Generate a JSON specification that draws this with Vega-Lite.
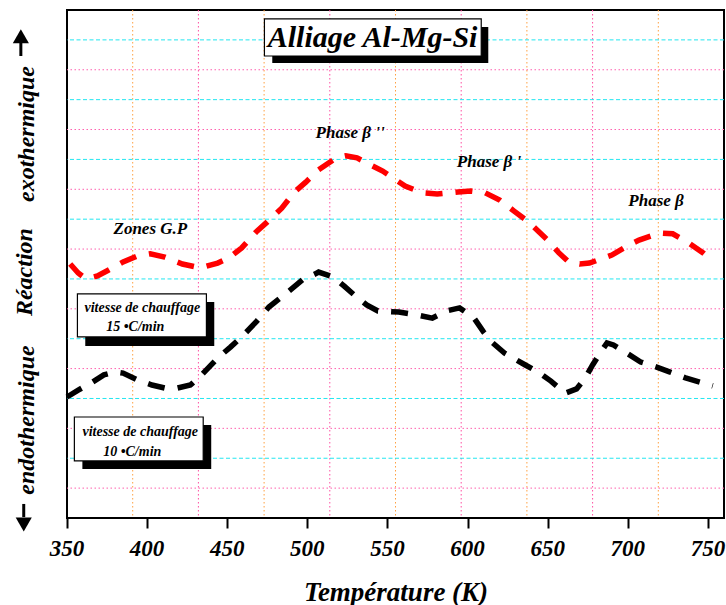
{
  "$schema": "https://vega.github.io/schema/vega-lite/v6.json",
  "width": 657,
  "height": 508,
  "autosize": "none",
  "padding": {"left": 67, "top": 10, "right": 2, "bottom": 87},
  "background": "white",
  "config": {
    "view": {"stroke": "black", "strokeWidth": 2},
    "font": "Liberation Serif",
    "axis": {
      "titleFont": "Liberation Serif", "titleFontStyle": "italic", "titleFontWeight": "bold",
      "titleFontSize": 27, "titleColor": "black"
    }
  },
  "datasets": {
    "vOrange": [{"T": 391}, {"T": 473}, {"T": 555}, {"T": 637}, {"T": 719}],
    "vPink": [{"T": 432}, {"T": 514}, {"T": 596}, {"T": 678}],
    "hPink": [{"v": 1}, {"v": 3}, {"v": 5}, {"v": 7}, {"v": 9}, {"v": 11}, {"v": 13}, {"v": 15}],
    "hCyan": [{"v": 2}, {"v": 4}, {"v": 6}, {"v": 8}, {"v": 10}, {"v": 12}, {"v": 14}, {"v": 16}],
    "tickLabels": [
      {"T": 350, "v": -1.03, "label": "350"}, {"T": 400, "v": -1.03, "label": "400"}, {"T": 450, "v": -1.03, "label": "450"},
      {"T": 500, "v": -1.03, "label": "500"}, {"T": 550, "v": -1.03, "label": "550"}, {"T": 600, "v": -1.03, "label": "600"},
      {"T": 650, "v": -1.03, "label": "650"}, {"T": 700, "v": -1.03, "label": "700"}, {"T": 750, "v": -1.03, "label": "750"}
    ],
    "curves": [
      {"s": "15", "T": 352, "v": 8.5}, {"s": "15", "T": 357, "v": 8.2}, {"s": "15", "T": 362, "v": 8.0},
      {"s": "15", "T": 369, "v": 8.1}, {"s": "15", "T": 376, "v": 8.3}, {"s": "15", "T": 385, "v": 8.57},
      {"s": "15", "T": 394, "v": 8.77}, {"s": "15", "T": 402, "v": 8.84}, {"s": "15", "T": 411, "v": 8.73},
      {"s": "15", "T": 422, "v": 8.5}, {"s": "15", "T": 433, "v": 8.37}, {"s": "15", "T": 444, "v": 8.53},
      {"s": "15", "T": 451, "v": 8.7}, {"s": "15", "T": 459, "v": 9.04}, {"s": "15", "T": 468, "v": 9.57},
      {"s": "15", "T": 475, "v": 9.91}, {"s": "15", "T": 484, "v": 10.37}, {"s": "15", "T": 492, "v": 10.91},
      {"s": "15", "T": 499, "v": 11.24}, {"s": "15", "T": 507, "v": 11.65}, {"s": "15", "T": 518, "v": 12.05},
      {"s": "15", "T": 524, "v": 12.12}, {"s": "15", "T": 531, "v": 12.05}, {"s": "15", "T": 537, "v": 11.88},
      {"s": "15", "T": 547, "v": 11.61}, {"s": "15", "T": 561, "v": 11.11}, {"s": "15", "T": 572, "v": 10.88},
      {"s": "15", "T": 581, "v": 10.84}, {"s": "15", "T": 594, "v": 10.91}, {"s": "15", "T": 602, "v": 10.94},
      {"s": "15", "T": 611, "v": 10.88}, {"s": "15", "T": 620, "v": 10.64}, {"s": "15", "T": 629, "v": 10.27},
      {"s": "15", "T": 638, "v": 9.91}, {"s": "15", "T": 650, "v": 9.3}, {"s": "15", "T": 657, "v": 8.87},
      {"s": "15", "T": 663, "v": 8.57}, {"s": "15", "T": 670, "v": 8.5}, {"s": "15", "T": 676, "v": 8.53},
      {"s": "15", "T": 690, "v": 8.8}, {"s": "15", "T": 701, "v": 9.14}, {"s": "15", "T": 707, "v": 9.3},
      {"s": "15", "T": 720, "v": 9.54}, {"s": "15", "T": 728, "v": 9.51}, {"s": "15", "T": 737, "v": 9.24},
      {"s": "15", "T": 747, "v": 8.87}, {"s": "15", "T": 753, "v": 8.6},
      {"s": "10", "T": 350, "v": 4.05}, {"s": "10", "T": 357, "v": 4.28}, {"s": "10", "T": 366, "v": 4.55},
      {"s": "10", "T": 373, "v": 4.79}, {"s": "10", "T": 380, "v": 4.89}, {"s": "10", "T": 385, "v": 4.85},
      {"s": "10", "T": 394, "v": 4.62}, {"s": "10", "T": 403, "v": 4.45}, {"s": "10", "T": 411, "v": 4.35},
      {"s": "10", "T": 419, "v": 4.35}, {"s": "10", "T": 427, "v": 4.45}, {"s": "10", "T": 434, "v": 4.79},
      {"s": "10", "T": 444, "v": 5.35}, {"s": "10", "T": 452, "v": 5.72}, {"s": "10", "T": 459, "v": 6.06},
      {"s": "10", "T": 468, "v": 6.56}, {"s": "10", "T": 476, "v": 7.06}, {"s": "10", "T": 484, "v": 7.4},
      {"s": "10", "T": 490, "v": 7.66}, {"s": "10", "T": 497, "v": 7.97}, {"s": "10", "T": 505, "v": 8.17},
      {"s": "10", "T": 507, "v": 8.23}, {"s": "10", "T": 516, "v": 8.07}, {"s": "10", "T": 523, "v": 7.76},
      {"s": "10", "T": 530, "v": 7.43}, {"s": "10", "T": 537, "v": 7.13}, {"s": "10", "T": 544, "v": 6.93},
      {"s": "10", "T": 557, "v": 6.89}, {"s": "10", "T": 569, "v": 6.79}, {"s": "10", "T": 578, "v": 6.69},
      {"s": "10", "T": 587, "v": 6.93}, {"s": "10", "T": 595, "v": 7.03}, {"s": "10", "T": 604, "v": 6.69},
      {"s": "10", "T": 610, "v": 6.22}, {"s": "10", "T": 615, "v": 5.89}, {"s": "10", "T": 623, "v": 5.52},
      {"s": "10", "T": 636, "v": 5.12}, {"s": "10", "T": 645, "v": 4.85}, {"s": "10", "T": 652, "v": 4.58},
      {"s": "10", "T": 661, "v": 4.18}, {"s": "10", "T": 668, "v": 4.32}, {"s": "10", "T": 673, "v": 4.65},
      {"s": "10", "T": 678, "v": 5.12}, {"s": "10", "T": 682, "v": 5.46}, {"s": "10", "T": 687, "v": 5.86},
      {"s": "10", "T": 691, "v": 5.79}, {"s": "10", "T": 698, "v": 5.56}, {"s": "10", "T": 708, "v": 5.22},
      {"s": "10", "T": 718, "v": 5.05}, {"s": "10", "T": 726, "v": 4.89}, {"s": "10", "T": 736, "v": 4.69},
      {"s": "10", "T": 753, "v": 4.42}
    ],
    "shadows": [
      {"T1": 478.1, "T2": 612.9, "v1": 15.23, "v2": 16.43},
      {"T1": 361.4, "T2": 441.9, "v1": 5.76, "v2": 7.23},
      {"T1": 359.6, "T2": 440.0, "v1": 1.64, "v2": 3.11}
    ],
    "boxes": [
      {"T1": 473.2, "T2": 608.5, "v1": 15.46, "v2": 16.7},
      {"T1": 356.5, "T2": 437.0, "v1": 6.06, "v2": 7.5},
      {"T1": 354.6, "T2": 435.0, "v1": 1.91, "v2": 3.38}
    ],
    "titleText": [{"T": 540.7, "v": 16.05, "label": "Alliage Al-Mg-Si"}],
    "boxText": [
      {"T": 397.0, "v": 7.03, "label": "vitesse de chauffage"},
      {"T": 392.6, "v": 6.39, "label": "15 •C/min"},
      {"T": 395.7, "v": 2.88, "label": "vitesse de chauffage"},
      {"T": 390.7, "v": 2.21, "label": "10 •C/min"}
    ],
    "phases": [
      {"T": 526.7, "v": 12.88, "label": "Phase β ''"},
      {"T": 613.4, "v": 11.91, "label": "Phase β '"},
      {"T": 717.6, "v": 10.61, "label": "Phase β"},
      {"T": 402.0, "v": 9.67, "label": "Zones G.P"}
    ],
    "sideText": [
      {"T": 325.2, "v": 12.85, "label": "exothermique"},
      {"T": 324.0, "v": 8.23, "label": "Réaction"},
      {"T": 325.2, "v": 3.28, "label": "endothermique"}
    ],
    "shafts": [
      {"T": 321.2, "v1": 15.46, "v2": 15.9},
      {"T": 323.0, "v1": 0.03, "v2": 0.47}
    ],
    "headUp": [{"T": 321.2, "v": 16.12}],
    "headDown": [{"T": 323.0, "v": -0.22}]
  },
  "layer": [
    {
      "data": {"name": "vOrange"},
      "mark": {"type": "rule", "color": "#FFA040", "strokeWidth": 1, "strokeDash": [1.5, 2.5]},
      "encoding": {
        "x": {"field": "T", "type": "quantitative", "scale": {"domain": [350, 760], "nice": false, "zero": false},
          "axis": {"values": [350, 400, 450, 500, 550, 600, 650, 700, 750], "title": "Température (K)", "grid": false, "domain": false,
            "tickColor": "black", "tickWidth": 2, "tickSize": 10, "labels": false, "titlePadding": 50}}
      }
    },
    {
      "data": {"name": "vPink"},
      "mark": {"type": "rule", "color": "#FF4FA3", "strokeWidth": 1, "strokeDash": [1.5, 2.5]},
      "encoding": {"x": {"field": "T", "type": "quantitative"}}
    },
    {
      "data": {"name": "hPink"},
      "mark": {"type": "rule", "color": "#FF5FAE", "strokeWidth": 1, "strokeDash": [1.5, 2.5]},
      "encoding": {"y": {"field": "v", "type": "quantitative", "scale": {"domain": [0, 17], "nice": false, "zero": false}, "axis": null}}
    },
    {
      "data": {"name": "hCyan"},
      "mark": {"type": "rule", "color": "#22E6F0", "strokeWidth": 1, "strokeDash": [4, 2.5]},
      "encoding": {"y": {"field": "v", "type": "quantitative"}}
    },
    {
      "data": {"name": "curves"},
      "mark": {"type": "line", "strokeWidth": 5.5, "strokeDash": [17, 13], "strokeCap": "butt"},
      "encoding": {
        "x": {"field": "T", "type": "quantitative"},
        "y": {"field": "v", "type": "quantitative"},
        "color": {"field": "s", "type": "nominal", "scale": {"domain": ["10", "15"], "range": ["#000000", "#FF0000"]}, "legend": null},
        "detail": {"field": "s"}
      }
    },
    {
      "data": {"name": "shadows"},
      "mark": {"type": "rect", "color": "black"},
      "encoding": {
        "x": {"field": "T1", "type": "quantitative"}, "x2": {"field": "T2"},
        "y": {"field": "v1", "type": "quantitative"}, "y2": {"field": "v2"}
      }
    },
    {
      "data": {"name": "boxes"},
      "mark": {"type": "rect", "fill": "white", "stroke": "black", "strokeWidth": 1.2},
      "encoding": {
        "x": {"field": "T1", "type": "quantitative"}, "x2": {"field": "T2"},
        "y": {"field": "v1", "type": "quantitative"}, "y2": {"field": "v2"}
      }
    },
    {
      "data": {"name": "tickLabels"},
      "mark": {"type": "text", "font": "Liberation Serif", "fontStyle": "italic", "fontWeight": "bold", "fontSize": 23, "color": "black", "align": "center", "baseline": "middle"},
      "encoding": {"x": {"field": "T", "type": "quantitative"}, "y": {"field": "v", "type": "quantitative"}, "text": {"field": "label"}}
    },
    {
      "data": {"name": "titleText"},
      "mark": {"type": "text", "font": "Liberation Serif", "fontStyle": "italic", "fontWeight": "bold", "fontSize": 30, "color": "black", "align": "center", "baseline": "middle"},
      "encoding": {"x": {"field": "T", "type": "quantitative"}, "y": {"field": "v", "type": "quantitative"}, "text": {"field": "label"}}
    },
    {
      "data": {"name": "boxText"},
      "mark": {"type": "text", "font": "Liberation Serif", "fontStyle": "italic", "fontWeight": "bold", "fontSize": 14, "color": "black", "align": "center", "baseline": "middle"},
      "encoding": {"x": {"field": "T", "type": "quantitative"}, "y": {"field": "v", "type": "quantitative"}, "text": {"field": "label"}}
    },
    {
      "data": {"name": "phases"},
      "mark": {"type": "text", "font": "Liberation Serif", "fontStyle": "italic", "fontWeight": "bold", "fontSize": 17, "color": "black", "align": "center", "baseline": "middle"},
      "encoding": {"x": {"field": "T", "type": "quantitative"}, "y": {"field": "v", "type": "quantitative"}, "text": {"field": "label"}}
    },
    {
      "data": {"name": "sideText"},
      "mark": {"type": "text", "font": "Liberation Serif", "fontStyle": "italic", "fontWeight": "bold", "fontSize": 24, "color": "black", "align": "center", "baseline": "middle", "angle": 270},
      "encoding": {"x": {"field": "T", "type": "quantitative"}, "y": {"field": "v", "type": "quantitative"}, "text": {"field": "label"}}
    },
    {
      "data": {"name": "shafts"},
      "mark": {"type": "rule", "color": "black", "strokeWidth": 3},
      "encoding": {"x": {"field": "T", "type": "quantitative"}, "y": {"field": "v1", "type": "quantitative"}, "y2": {"field": "v2"}}
    },
    {
      "data": {"name": "headUp"},
      "mark": {"type": "point", "shape": "triangle-up", "filled": true, "color": "black", "size": 260, "opacity": 1},
      "encoding": {"x": {"field": "T", "type": "quantitative"}, "y": {"field": "v", "type": "quantitative"}}
    },
    {
      "data": {"name": "headDown"},
      "mark": {"type": "point", "shape": "triangle-down", "filled": true, "color": "black", "size": 260, "opacity": 1},
      "encoding": {"x": {"field": "T", "type": "quantitative"}, "y": {"field": "v", "type": "quantitative"}}
    }
  ]
}
